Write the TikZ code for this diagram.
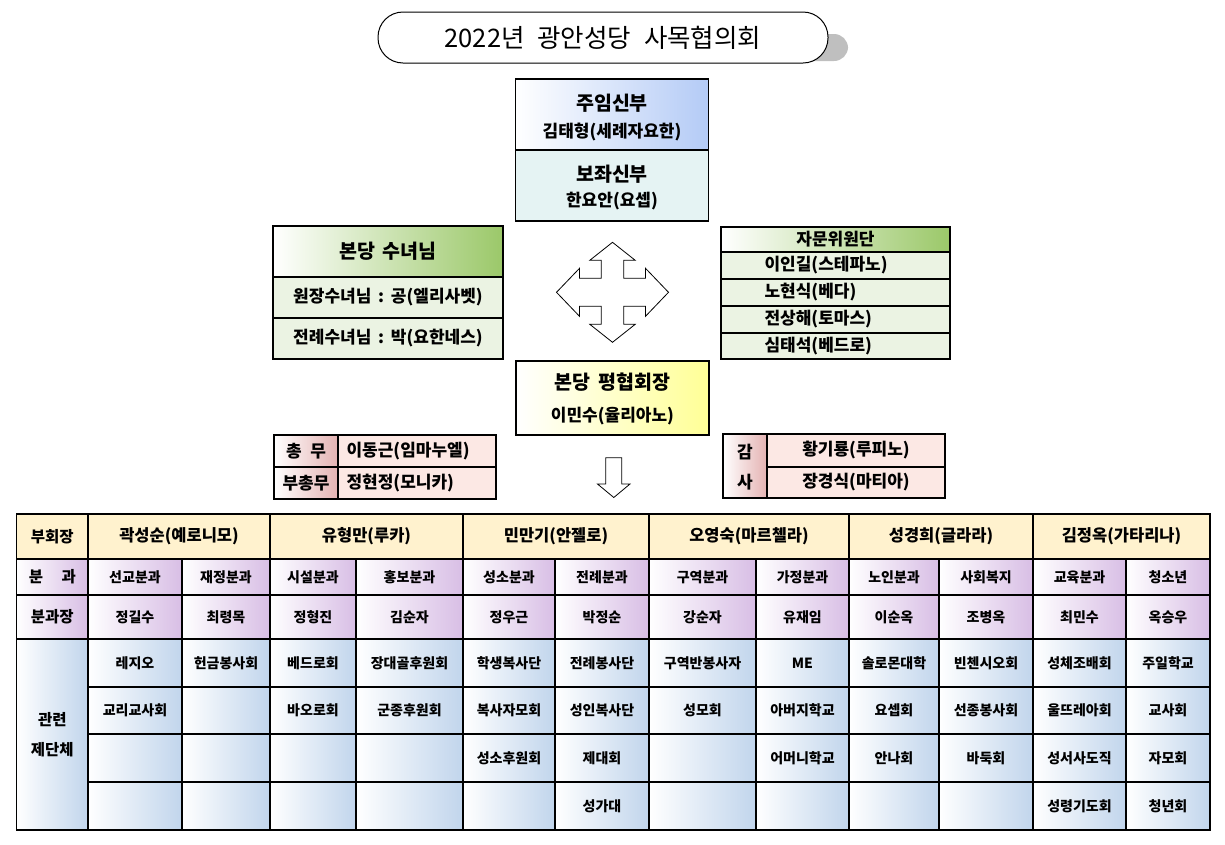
\documentclass[tikz,border=0pt]{standalone}
\usepackage{fontspec}
\setmainfont{Noto Sans CJK KR}
\usepackage{tikz}
\usetikzlibrary{calc}
\definecolor{bl}{RGB}{180,203,246}
\definecolor{cy}{RGB}{229,243,243}
\definecolor{gr}{RGB}{155,200,105}
\definecolor{lg}{RGB}{235,243,227}
\definecolor{ye}{RGB}{255,255,150}
\definecolor{pk}{RGB}{228,178,178}
\definecolor{lp}{RGB}{252,232,228}
\definecolor{cr}{RGB}{255,242,206}
\definecolor{pu}{RGB}{216,190,229}
\definecolor{sk}{RGB}{193,213,236}
\tikzstyle{box}=[draw,line width=1.2pt,inner sep=0pt,outer sep=0pt,anchor=north west]
\tikzstyle{ttl}=[font=\fontsize{25.5}{28}\selectfont]
\tikzstyle{big}=[font=\fontsize{19.5}{22}\selectfont\bfseries]
\tikzstyle{mid}=[font=\fontsize{17}{20}\selectfont\bfseries]
\tikzstyle{hed}=[font=\fontsize{16.5}{19}\selectfont\bfseries]
\tikzstyle{tbl}=[font=\fontsize{15.5}{18}\selectfont\bfseries]
\tikzstyle{sml}=[font=\fontsize{14}{16}\selectfont\bfseries]
\tikzstyle{blu}=[left color=white,right color=bl]
\tikzstyle{grn}=[left color=white,right color=gr]
\tikzstyle{yel}=[left color=white,right color=ye]
\tikzstyle{pnk}=[left color=white,right color=pk]
\tikzstyle{pur}=[left color=white,right color=pu]
\tikzstyle{sky}=[left color=white,right color=sk]
% name, x1, y1, x2, y2, style, text
\newcommand{\cel}[7]{\node[box,#6,minimum width={(#4-#2)*1pt},minimum height={(#5-#3)*1pt}] (#1) at (#2,#3) {#7};}

\begin{document}
\begin{tikzpicture}[x=1pt,y=-1pt]
	\useasboundingbox (0,0) rectangle (1225,844);

	% title
	\node[fill=gray!50,rounded corners=14pt,minimum width=440pt,minimum height=27pt] (ts) at (628,47.5) {};
	\node[draw,fill=white,line width=1pt,rounded corners=25pt,minimum width=450pt,minimum height=51pt,ttl] (t) at (603,37.5) {2022년\hspace{.5em}광안성당\hspace{.5em}사목협의회};

	% priests
	\cel{p}{515.5}{79}{708.5}{150}{blu}{}
	\cel{q}{515.5}{150}{708.5}{221}{fill=cy}{}
	\node[big] (p1) at (612,103) {주임신부};
	\node[mid] (p2) at (612,132.5) {김태형(세례자요한)};
	\node[big] (q1) at (612,174) {보좌신부};
	\node[mid] (q2) at (612,201.5) {한요안(요셉)};

	% sisters
	\cel{n0}{273}{226}{503}{277}{grn,big}{본당\hspace{.4em}수녀님}
	\cel{n1}{273}{277}{503}{318}{fill=lg,mid}{원장수녀님\hspace{.4em}:\hspace{.4em}공(엘리사벳)}
	\cel{n2}{273}{318}{503}{359}{fill=lg,mid}{전례수녀님\hspace{.4em}:\hspace{.4em}박(요한네스)}

	% advisors
	\cel{a0}{721}{227}{950}{252}{grn,mid}{자문위원단}
	\foreach \yt/\yb/\nm [count=\i] in {252/279/이인길(스테파노),279/306/노현식(베다),306/333/전상해(토마스),333/359/심태석(베드로)}{
		\cel{a\i}{721}{\yt}{950}{\yb}{fill=lg}{}
		\node[mid,anchor=west] (at\i) at ($(a\i.west)+(40,0)$) {\nm};
	}

	% four-way arrow
	\begin{scope}[shift={(612.5,292.3)}]
		\draw[line width=.8pt] (0,-50) -- (22.7,-32) -- (11.3,-32) -- (11.3,-14) -- (33,-14) -- (33,-24) -- (56,0) -- (33,24) -- (33,14) -- (11.3,14) -- (11.3,32) -- (22.7,32) -- (0,50) -- (-22.7,32) -- (-11.3,32) -- (-11.3,14) -- (-33,14) -- (-33,24) -- (-56,0) -- (-33,-24) -- (-33,-14) -- (-11.3,-14) -- (-11.3,-32) -- (-22.7,-32) -- cycle;
	\end{scope}

	% president
	\cel{h}{516}{361}{709}{435}{yel}{}
	\node[big] (h1) at (612.5,382) {본당\hspace{.4em}평협회장};
	\node[mid] (h2) at (612.5,416.5) {이민수(율리아노)};

	% secretaries
	\cel{s1}{274}{435}{338}{467}{pnk,mid}{총\hspace{.5em}무}
	\cel{s2}{338}{435}{496}{467}{fill=lp}{}
	\node[mid,anchor=west] (s2t) at (343,451) {이동근(임마누엘)};
	\cel{s3}{274}{467}{338}{499}{pnk,mid}{부총무}
	\cel{s4}{338}{467}{496}{499}{fill=lp}{}
	\node[mid,anchor=west] (s4t) at (343,483) {정현정(모니카)};

	% auditors
	\cel{g1}{723}{434}{767}{498}{pnk}{}
	\node[mid] (g1a) at (745,452) {감};
	\node[mid] (g1b) at (745,482) {사};
	\cel{g2}{767}{434}{945}{467}{fill=lp,mid}{황기룡(루피노)}
	\cel{g3}{767}{467}{945}{498}{fill=lp,mid}{장경식(마티아)}

	% down arrow
	\draw[line width=.8pt] (605.7,457.7) -- (621.7,457.7) -- (621.7,484) -- (630,484) -- (613.8,497.5) -- (597.5,484) -- (605.7,484) -- cycle;

	% table
	\cel{v0}{16.7}{514}{88}{559}{fill=cr,tbl}{부회장}
	\cel{v1}{16.7}{559}{88}{595}{pur,tbl}{분\hspace{1.2em}과}
	\cel{v2}{16.7}{595}{88}{639}{pur,tbl}{분과장}
	\cel{v3}{16.7}{639}{88}{830}{sky,tbl,align=center}{관련\\[12pt]제단체}
	\foreach \xl/\xr/\nm [count=\i] in {88/270/곽성순(예로니모),270/463/유형만(루카),463/649/민만기(안젤로),649/849/오영숙(마르첼라),849/1033/성경희(글라라),1033/1210/김정옥(가타리나)}{
		\cel{m\i}{\xl}{514}{\xr}{559}{fill=cr,hed}{\nm}
	}
	\foreach \xl/\xr/\bn/\jn/\ra/\rb/\rc/\rd [count=\i] in {
		88/182/선교분과/정길수/레지오/교리교사회/{}/{},
		182/270/재정분과/최령목/헌금봉사회/{}/{}/{},
		270/356/시설분과/정형진/베드로회/바오로회/{}/{},
		356/463/홍보분과/김순자/장대골후원회/군종후원회/{}/{},
		463/555/성소분과/정우근/학생복사단/복사자모회/성소후원회/{},
		555/649/전례분과/박정순/전례봉사단/성인복사단/제대회/성가대,
		649/756/구역분과/강순자/구역반봉사자/성모회/{}/{},
		756/849/가정분과/유재임/ME/아버지학교/어머니학교/{},
		849/939/노인분과/이순옥/솔로몬대학/요셉회/안나회/{},
		939/1033/사회복지/조병옥/빈첸시오회/선종봉사회/바둑회/{},
		1033/1126/교육분과/최민수/성체조배회/울뜨레아회/성서사도직/성령기도회,
		1126/1210/청소년/옥승우/주일학교/교사회/자모회/청년회}{
		\cel{b\i}{\xl}{559}{\xr}{595}{pur,sml}{\bn}
		\cel{j\i}{\xl}{595}{\xr}{639}{pur,sml}{\jn}
		\cel{c\i-1}{\xl}{639}{\xr}{687}{sky,sml}{\ra}
		\cel{c\i-2}{\xl}{687}{\xr}{734}{sky,sml}{\rb}
		\cel{c\i-3}{\xl}{734}{\xr}{782}{sky,sml}{\rc}
		\cel{c\i-4}{\xl}{782}{\xr}{830}{sky,sml}{\rd}
	}
\end{tikzpicture}
\end{document}
